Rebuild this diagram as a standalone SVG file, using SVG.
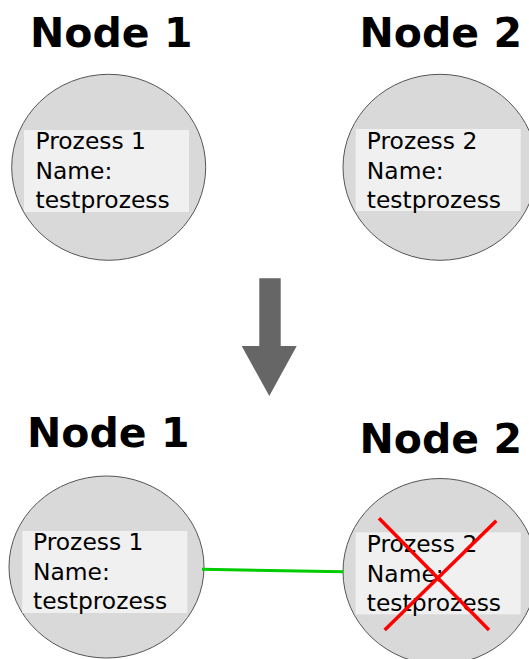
<svg xmlns="http://www.w3.org/2000/svg" width="529" height="659" viewBox="0 0 529 659">
  <style>
    .title { font-family: "DejaVu Sans", "Liberation Sans", sans-serif; font-weight: bold; font-size: 41px; fill: #000; }
    .label { font-family: "DejaVu Sans", "Liberation Sans", sans-serif; font-size: 23.4px; fill: #000; }
    .node { fill: #d9d9d9; stroke: #555; stroke-width: 1; }
    .box { fill: #f0f0f0; }
    .link { stroke: #00cc00; stroke-width: 3; fill: none; }
    .cross { stroke: #ff0000; stroke-width: 3.5; stroke-linecap: butt; }
    .arrow { fill: #666666; }
  </style>
  <rect width="529" height="659" fill="#ffffff"/>

  <!-- before: two nodes, each running its own process -->
  <g id="node1-top">
    <text class="title" x="30" y="47">Node 1</text>
    <ellipse class="node" cx="108.7" cy="167.3" rx="97" ry="93"/>
    <rect class="box" x="24" y="130" width="165" height="82"/>
    <text class="label" x="35.5" y="149">Prozess 1</text>
    <text class="label" x="35.5" y="178.5">Name:</text>
    <text class="label" x="35.5" y="208">testprozess</text>
  </g>

  <g id="node2-top">
    <text class="title" x="359.5" y="47">Node 2</text>
    <ellipse class="node" cx="440" cy="167.3" rx="97" ry="93"/>
    <rect class="box" x="355.7" y="129" width="165" height="82"/>
    <text class="label" x="366.8" y="149">Prozess 2</text>
    <text class="label" x="366.8" y="178.5">Name:</text>
    <text class="label" x="366.8" y="208">testprozess</text>
  </g>

  <!-- transition arrow -->
  <g id="transition">
    <path class="arrow" d="M259.3,278.3 H280.7 V346 H296.7 L269.3,396 L241.7,346 H259.3 Z"/>
  </g>

  <!-- after: processes linked, the second one terminated -->
  <g id="node1-bottom">
    <text class="title" x="27" y="447">Node 1</text>
    <ellipse class="node" cx="106.5" cy="567" rx="97.5" ry="91"/>
    <rect class="box" x="22.3" y="531" width="165" height="82"/>
    <text class="label" x="33" y="550">Prozess 1</text>
    <text class="label" x="33" y="579.5">Name:</text>
    <text class="label" x="33" y="609">testprozess</text>
  </g>

  <g id="node2-bottom">
    <text class="title" x="359.5" y="453">Node 2</text>
    <ellipse class="node" cx="440" cy="571.5" rx="97" ry="93"/>
    <rect class="box" x="355.7" y="532.3" width="165" height="82"/>
    <text class="label" x="366.8" y="552">Prozess 2</text>
    <text class="label" x="366.8" y="581.5">Name:</text>
    <text class="label" x="366.8" y="611">testprozess</text>
    <line class="cross" x1="379" y1="518.3" x2="489" y2="630"/>
    <line class="cross" x1="496.3" y1="520.7" x2="384.7" y2="630"/>
  </g>

  <g id="connectors">
    <line class="link" x1="202" y1="569.3" x2="343.3" y2="571.7"/>
  </g>
</svg>
